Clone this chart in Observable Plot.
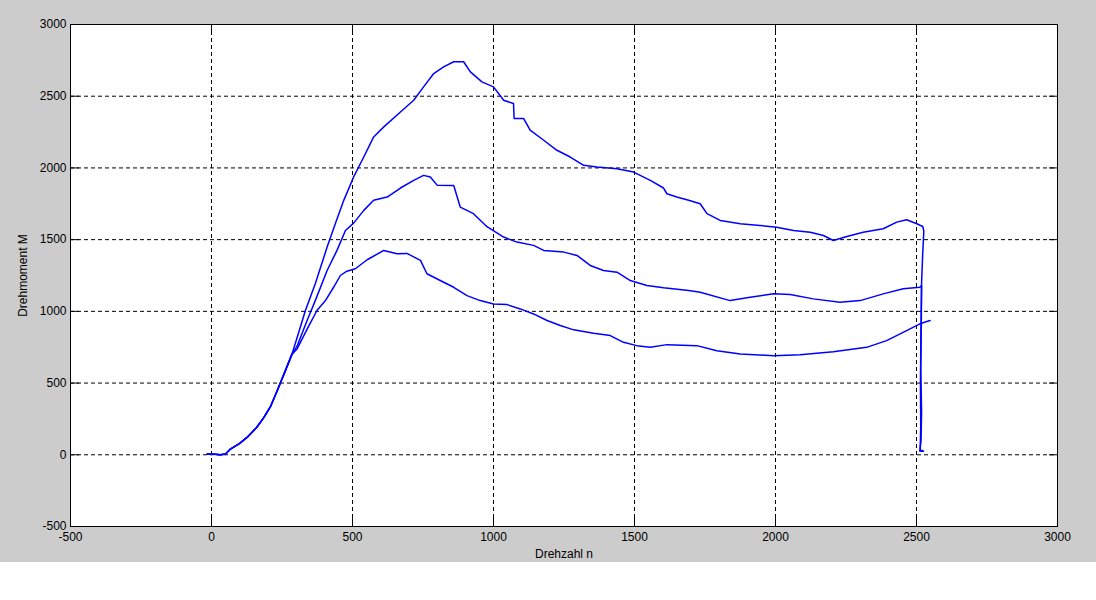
<!DOCTYPE html>
<html>
<head>
<meta charset="utf-8">
<script src="https://cdn.jsdelivr.net/npm/d3@7"></script>
<script src="https://cdn.jsdelivr.net/npm/@observablehq/plot@0.6"></script>
<style>
  body { margin: 0; background: #fff; }
  #chart svg { display: block; }
</style>
</head>
<body>
<div id="chart"></div>
<script>
// Tick values of both axes
const xTicks = [-500, 0, 500, 1000, 1500, 2000, 2500, 3000];
const yTicks = [-500, 0, 500, 1000, 1500, 2000, 2500, 3000];

// Common run-up shared by all three runs (Drehzahl n, Drehmoment M)
const riseN = [-15, 10, 32, 50, 67, 100, 126, 160, 186, 210, 233, 262, 285];
const riseM = [5, 3, 0, 5, 40, 80, 121, 190, 261, 340, 447, 587, 700];

// Upper run
const topN = [304, 333, 368, 410, 439, 469, 504, 540, 575, 611, 670, 717, 752, 788, 823, 859, 894, 918, 959, 1000,
  1036, 1071, 1073, 1107, 1130, 1178, 1225, 1272, 1320, 1367, 1438, 1497, 1556, 1603, 1615, 1650, 1692, 1733, 1757, 1804,
  1875, 1945, 2004, 2064, 2123, 2170, 2205, 2253, 2311, 2382, 2430, 2465, 2501, 2522, 2526, 2522, 2518, 2517, 2515, 2518,
  2516, 2512, 2525];
const topM = [819, 1006, 1192, 1448, 1611, 1774, 1937, 2076, 2216, 2286, 2390, 2472, 2565, 2658, 2705, 2740, 2740, 2670, 2600, 2565,
  2472, 2449, 2344, 2344, 2263, 2193, 2123, 2076, 2018, 2006, 1995, 1971, 1913, 1860, 1820, 1797, 1774, 1750, 1681, 1634,
  1611, 1599, 1587, 1564, 1552, 1529, 1494, 1522, 1552, 1576, 1622, 1639, 1611, 1592, 1560, 1400, 1200, 900, 600, 300,
  100, 25, 25];

// Middle run
const midN = [304, 339, 368, 410, 445, 475, 504, 540, 575, 623, 670, 717, 752, 776, 800, 859, 882, 929, 977, 1036,
  1083, 1142, 1178, 1249, 1296, 1343, 1390, 1438, 1485, 1544, 1603, 1692, 1733, 1839, 1910, 1993, 2052, 2134, 2229, 2300,
  2382, 2453, 2512, 2518, 2516, 2514, 2515, 2513, 2522];
const midM = [760, 936, 1075, 1285, 1425, 1564, 1615, 1704, 1774, 1797, 1860, 1913, 1948, 1937, 1880, 1878, 1727, 1681, 1590, 1518,
  1483, 1460, 1425, 1413, 1390, 1320, 1285, 1273, 1215, 1180, 1164, 1145, 1133, 1075, 1098, 1122, 1117, 1087, 1064, 1075,
  1122, 1157, 1168, 1180, 900, 500, 200, 30, 30];

// Lower run
const lowN = [304, 340, 374, 404, 433, 457, 480, 510, 552, 611, 658, 693, 741, 764, 811, 859, 906, 953, 1000, 1048,
  1095, 1142, 1190, 1237, 1284, 1355, 1414, 1461, 1508, 1556, 1615, 1721, 1792, 1875, 1993, 2087, 2205, 2323, 2394, 2465,
  2512, 2548];
const lowM = [740, 880, 1006, 1075, 1168, 1250, 1280, 1297, 1360, 1425, 1402, 1404, 1355, 1262, 1215, 1168, 1110, 1075, 1052, 1047,
  1017, 982, 936, 901, 871, 847, 831, 784, 761, 749, 768, 761, 726, 703, 691, 698, 719, 749, 796, 866,
  913, 936];

const runs = [["oben", topN, topM], ["mitte", midN, midM], ["unten", lowN, lowM]];
const rows = runs.flatMap(([run, ns, ms]) =>
  riseN.concat(ns).map((n, i) => ({run, n, m: riseM.concat(ms)[i]}))
);

const fmt = d => String(d);
const grid = {stroke: "black", strokeOpacity: 1, strokeWidth: 1, strokeDasharray: "4,3"};

const chart = Plot.plot({
  width: 1096,
  height: 562,
  marginLeft: 70,
  marginRight: 39,
  marginTop: 24,
  marginBottom: 36,
  style: {
    background: "#cccccc",
    color: "black",
    fontFamily: "'Liberation Sans', Arial, Helvetica, sans-serif",
    fontSize: "12px"
  },
  x: {domain: [-500, 3000]},
  y: {domain: [-500, 3000]},
  marks: [
    Plot.frame({fill: "white", stroke: null}),
    Plot.gridX(xTicks, grid),
    Plot.gridY(yTicks, grid),
    Plot.line(rows, {x: "n", y: "m", z: "run", stroke: "#0000ff", strokeWidth: 1.5}),
    Plot.frame({stroke: "black", strokeWidth: 1}),
    Plot.axisX(xTicks, {anchor: "bottom", tickSize: -9, tickPadding: 15, tickFormat: fmt,
      label: "Drehzahl n", labelAnchor: "center", labelOffset: 31, labelArrow: "none"}),
    Plot.axisX(xTicks, {anchor: "top", tickSize: -9, tickFormat: () => "", label: null}),
    Plot.axisY(yTicks, {anchor: "left", tickSize: -9, tickPadding: 13, tickFormat: fmt,
      label: "Drehmoment M", labelAnchor: "center", labelOffset: 52, labelArrow: "none"}),
    Plot.axisY(yTicks, {anchor: "right", tickSize: -9, tickFormat: () => "", label: null})
  ]
});

document.getElementById("chart").append(chart);
</script>
</body>
</html>
